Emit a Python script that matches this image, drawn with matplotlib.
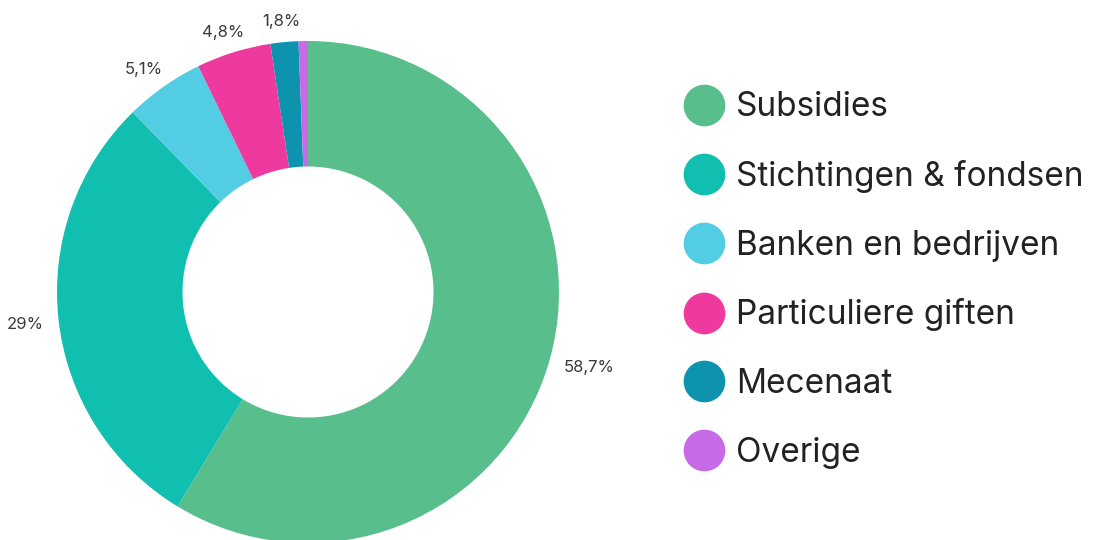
import matplotlib
matplotlib.use("Agg")
import numpy as np
import matplotlib.pyplot as plt
import matplotlib.transforms as mtransforms
from matplotlib.lines import Line2D

# Data
categories = ["Subsidies", "Stichtingen & fondsen", "Banken en bedrijven",
              "Particuliere giften", "Mecenaat", "Overige"]
shares = [58.7, 29.0, 5.1, 4.8, 1.8, 0.6]
share_labels = ["58,7%", "29%", "5,1%", "4,8%", "1,8%", ""]
colors = ["#58BE8C", "#10BFB0", "#52CDE4", "#EE3A9F", "#0E93AE", "#C76AE8"]

plt.rcParams['font.family'] = ['Inter', 'DejaVu Sans']

fig = plt.figure(figsize=(11.17, 5.40), dpi=100)
ax = fig.add_axes([57 / 1117, -3 / 540, 502 / 1117, 502 / 540])

wedges, texts = ax.pie(shares, colors=colors, labels=share_labels,
                       startangle=90, counterclock=False,
                       labeldistance=1.06, radius=1.0,
                       wedgeprops=dict(width=0.5, linewidth=0),
                       textprops=dict(fontsize=12, color="#3a3a3a"))
ax.set_xlim(-1, 1)
ax.set_ylim(-1, 1)
ax.set_aspect('equal')
ax.axis('off')

# push each label outward so its box sits just outside the ring
renderer = fig.canvas.get_renderer()
for t in texts:
    t.set_clip_on(False)
    t.set_ha('center')
    t.set_va('center_baseline')
    x, y = t.get_position()
    ang = np.arctan2(y, x)
    bb = t.get_window_extent(renderer)
    dx = bb.width / 2 * np.cos(ang)
    dy = bb.height / 2 * np.sin(ang)
    t.set_transform(mtransforms.offset_copy(ax.transData, fig=fig,
                                            x=dx, y=dy, units='dots'))

handles = [Line2D([0], [0], marker='o', linestyle='none', markersize=29,
                  markerfacecolor=c, markeredgecolor=c) for c in colors]
fig.legend(handles, categories, loc='center left',
           bbox_to_anchor=(669 / 1117, 1 - 280 / 540),
           frameon=False, fontsize=24, labelspacing=1.10,
           handletextpad=0.35, handlelength=1.27,
           labelcolor="#222222", borderaxespad=0)

fig.savefig("out.png", dpi=100)
